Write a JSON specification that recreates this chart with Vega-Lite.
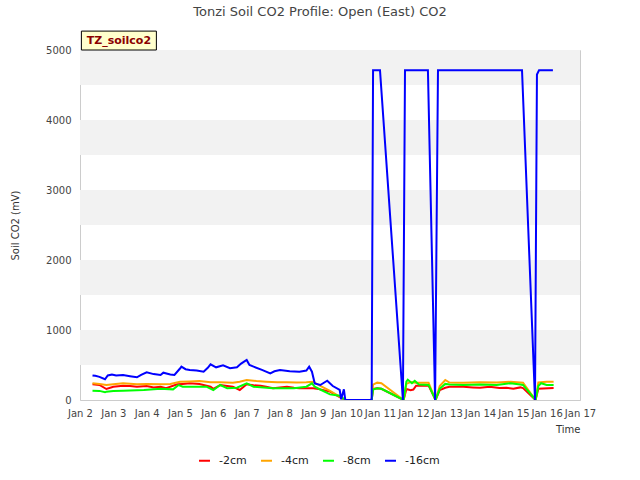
{
  "$schema": "https://vega.github.io/schema/vega-lite/v6.json",
  "width": 500,
  "height": 350,
  "autosize": "none",
  "padding": {"left": 80, "top": 50, "right": 60, "bottom": 80},
  "title": {"text": "Tonzi Soil CO2 Profile: Open (East) CO2", "fontSize": 13, "fontWeight": "normal", "color": "#444444", "font": "DejaVu Sans", "offset": 12, "dx": -10},
  "config": {
    "font": "DejaVu Sans",
    "view": {"stroke": "#cccccc"},
    "axis": {"labelFont": "DejaVu Sans", "titleFont": "DejaVu Sans", "labelFontSize": 10, "titleFontSize": 10, "titleFontWeight": "normal", "labelColor": "#444444", "titleColor": "#333333"}
  },
  "datasets": {
    "bands": [{"lo": 500, "hi": 1000}, {"lo": 1500, "hi": 2000}, {"lo": 2500, "hi": 3000}, {"lo": 3500, "hi": 4000}, {"lo": 4500, "hi": 5000}],
    "tag": [{"x1": "2020-01-02T01:00Z", "x2": "2020-01-04T07:00Z", "y1": 5000, "y2": 5270, "xm": "2020-01-03T04:00Z", "ym": 5135, "label": "TZ_soilco2"}],
    "series": [
      {"t":"2020-01-02T09:00Z","v":224,"s":"-2cm"},{"t":"2020-01-02T14:00Z","v":215,"s":"-2cm"},{"t":"2020-01-02T19:00Z","v":157,"s":"-2cm"},{"t":"2020-01-03T00:00Z","v":190,"s":"-2cm"},{"t":"2020-01-03T07:00Z","v":205,"s":"-2cm"},{"t":"2020-01-03T12:00Z","v":200,"s":"-2cm"},{"t":"2020-01-03T17:00Z","v":190,"s":"-2cm"},{"t":"2020-01-04T00:00Z","v":200,"s":"-2cm"},{"t":"2020-01-04T05:00Z","v":180,"s":"-2cm"},{"t":"2020-01-04T10:00Z","v":190,"s":"-2cm"},{"t":"2020-01-04T14:00Z","v":170,"s":"-2cm"},{"t":"2020-01-04T22:00Z","v":224,"s":"-2cm"},{"t":"2020-01-05T02:00Z","v":230,"s":"-2cm"},{"t":"2020-01-05T07:00Z","v":238,"s":"-2cm"},{"t":"2020-01-05T14:00Z","v":228,"s":"-2cm"},{"t":"2020-01-05T22:00Z","v":190,"s":"-2cm"},{"t":"2020-01-06T00:00Z","v":160,"s":"-2cm"},{"t":"2020-01-06T05:00Z","v":214,"s":"-2cm"},{"t":"2020-01-06T10:00Z","v":200,"s":"-2cm"},{"t":"2020-01-06T14:00Z","v":190,"s":"-2cm"},{"t":"2020-01-06T19:00Z","v":143,"s":"-2cm"},{"t":"2020-01-07T00:00Z","v":224,"s":"-2cm"},{"t":"2020-01-07T05:00Z","v":210,"s":"-2cm"},{"t":"2020-01-07T10:00Z","v":205,"s":"-2cm"},{"t":"2020-01-07T14:00Z","v":190,"s":"-2cm"},{"t":"2020-01-07T19:00Z","v":167,"s":"-2cm"},{"t":"2020-01-08T00:00Z","v":180,"s":"-2cm"},{"t":"2020-01-08T05:00Z","v":190,"s":"-2cm"},{"t":"2020-01-08T10:00Z","v":175,"s":"-2cm"},{"t":"2020-01-08T14:00Z","v":167,"s":"-2cm"},{"t":"2020-01-09T00:00Z","v":167,"s":"-2cm"},{"t":"2020-01-09T05:00Z","v":152,"s":"-2cm"},{"t":"2020-01-09T12:00Z","v":120,"s":"-2cm"},{"t":"2020-01-09T19:00Z","v":40,"s":"-2cm"},{"t":"2020-01-09T23:00Z","v":0,"s":"-2cm"},{"t":"2020-01-10T18:00Z","v":0,"s":"-2cm"},{"t":"2020-01-10T19:00Z","v":160,"s":"-2cm"},{"t":"2020-01-10T22:00Z","v":167,"s":"-2cm"},{"t":"2020-01-11T01:00Z","v":160,"s":"-2cm"},{"t":"2020-01-11T17:00Z","v":0,"s":"-2cm"},{"t":"2020-01-11T19:00Z","v":157,"s":"-2cm"},{"t":"2020-01-11T22:00Z","v":140,"s":"-2cm"},{"t":"2020-01-12T00:00Z","v":150,"s":"-2cm"},{"t":"2020-01-12T02:00Z","v":205,"s":"-2cm"},{"t":"2020-01-12T11:00Z","v":205,"s":"-2cm"},{"t":"2020-01-12T16:00Z","v":0,"s":"-2cm"},{"t":"2020-01-12T19:00Z","v":140,"s":"-2cm"},{"t":"2020-01-12T23:00Z","v":175,"s":"-2cm"},{"t":"2020-01-13T02:00Z","v":190,"s":"-2cm"},{"t":"2020-01-13T12:00Z","v":190,"s":"-2cm"},{"t":"2020-01-13T19:00Z","v":180,"s":"-2cm"},{"t":"2020-01-14T00:00Z","v":175,"s":"-2cm"},{"t":"2020-01-14T07:00Z","v":190,"s":"-2cm"},{"t":"2020-01-14T14:00Z","v":170,"s":"-2cm"},{"t":"2020-01-14T19:00Z","v":175,"s":"-2cm"},{"t":"2020-01-15T00:00Z","v":160,"s":"-2cm"},{"t":"2020-01-15T05:00Z","v":180,"s":"-2cm"},{"t":"2020-01-15T07:00Z","v":170,"s":"-2cm"},{"t":"2020-01-15T16:00Z","v":0,"s":"-2cm"},{"t":"2020-01-15T18:00Z","v":160,"s":"-2cm"},{"t":"2020-01-16T05:00Z","v":170,"s":"-2cm"},

      {"t":"2020-01-02T09:00Z","v":238,"s":"-4cm"},{"t":"2020-01-02T14:00Z","v":230,"s":"-4cm"},{"t":"2020-01-02T19:00Z","v":214,"s":"-4cm"},{"t":"2020-01-03T00:00Z","v":225,"s":"-4cm"},{"t":"2020-01-03T07:00Z","v":238,"s":"-4cm"},{"t":"2020-01-03T17:00Z","v":224,"s":"-4cm"},{"t":"2020-01-04T00:00Z","v":230,"s":"-4cm"},{"t":"2020-01-04T10:00Z","v":224,"s":"-4cm"},{"t":"2020-01-04T17:00Z","v":230,"s":"-4cm"},{"t":"2020-01-05T00:00Z","v":262,"s":"-4cm"},{"t":"2020-01-05T07:00Z","v":265,"s":"-4cm"},{"t":"2020-01-05T14:00Z","v":271,"s":"-4cm"},{"t":"2020-01-05T22:00Z","v":255,"s":"-4cm"},{"t":"2020-01-06T05:00Z","v":252,"s":"-4cm"},{"t":"2020-01-06T14:00Z","v":248,"s":"-4cm"},{"t":"2020-01-06T19:00Z","v":260,"s":"-4cm"},{"t":"2020-01-07T00:00Z","v":286,"s":"-4cm"},{"t":"2020-01-07T07:00Z","v":270,"s":"-4cm"},{"t":"2020-01-07T14:00Z","v":262,"s":"-4cm"},{"t":"2020-01-07T22:00Z","v":255,"s":"-4cm"},{"t":"2020-01-08T05:00Z","v":252,"s":"-4cm"},{"t":"2020-01-08T12:00Z","v":250,"s":"-4cm"},{"t":"2020-01-08T19:00Z","v":252,"s":"-4cm"},{"t":"2020-01-09T00:00Z","v":262,"s":"-4cm"},{"t":"2020-01-09T05:00Z","v":200,"s":"-4cm"},{"t":"2020-01-09T12:00Z","v":130,"s":"-4cm"},{"t":"2020-01-09T19:00Z","v":48,"s":"-4cm"},{"t":"2020-01-09T23:00Z","v":0,"s":"-4cm"},{"t":"2020-01-10T18:00Z","v":0,"s":"-4cm"},{"t":"2020-01-10T19:00Z","v":220,"s":"-4cm"},{"t":"2020-01-10T22:00Z","v":248,"s":"-4cm"},{"t":"2020-01-11T01:00Z","v":240,"s":"-4cm"},{"t":"2020-01-11T17:00Z","v":0,"s":"-4cm"},{"t":"2020-01-11T19:00Z","v":230,"s":"-4cm"},{"t":"2020-01-11T22:00Z","v":255,"s":"-4cm"},{"t":"2020-01-12T02:00Z","v":245,"s":"-4cm"},{"t":"2020-01-12T11:00Z","v":248,"s":"-4cm"},{"t":"2020-01-12T16:00Z","v":0,"s":"-4cm"},{"t":"2020-01-12T19:00Z","v":200,"s":"-4cm"},{"t":"2020-01-12T23:00Z","v":286,"s":"-4cm"},{"t":"2020-01-13T02:00Z","v":250,"s":"-4cm"},{"t":"2020-01-13T12:00Z","v":245,"s":"-4cm"},{"t":"2020-01-14T00:00Z","v":255,"s":"-4cm"},{"t":"2020-01-14T12:00Z","v":250,"s":"-4cm"},{"t":"2020-01-14T22:00Z","v":260,"s":"-4cm"},{"t":"2020-01-15T05:00Z","v":250,"s":"-4cm"},{"t":"2020-01-15T07:00Z","v":248,"s":"-4cm"},{"t":"2020-01-15T16:00Z","v":0,"s":"-4cm"},{"t":"2020-01-15T18:00Z","v":250,"s":"-4cm"},{"t":"2020-01-16T00:00Z","v":260,"s":"-4cm"},{"t":"2020-01-16T05:00Z","v":262,"s":"-4cm"},

      {"t":"2020-01-02T09:00Z","v":133,"s":"-8cm"},{"t":"2020-01-02T14:00Z","v":130,"s":"-8cm"},{"t":"2020-01-02T18:00Z","v":110,"s":"-8cm"},{"t":"2020-01-02T19:00Z","v":119,"s":"-8cm"},{"t":"2020-01-03T00:00Z","v":130,"s":"-8cm"},{"t":"2020-01-03T07:00Z","v":133,"s":"-8cm"},{"t":"2020-01-03T22:00Z","v":143,"s":"-8cm"},{"t":"2020-01-04T10:00Z","v":162,"s":"-8cm"},{"t":"2020-01-04T19:00Z","v":152,"s":"-8cm"},{"t":"2020-01-04T23:00Z","v":214,"s":"-8cm"},{"t":"2020-01-05T02:00Z","v":190,"s":"-8cm"},{"t":"2020-01-05T10:00Z","v":190,"s":"-8cm"},{"t":"2020-01-05T19:00Z","v":190,"s":"-8cm"},{"t":"2020-01-06T00:00Z","v":143,"s":"-8cm"},{"t":"2020-01-06T05:00Z","v":214,"s":"-8cm"},{"t":"2020-01-06T10:00Z","v":167,"s":"-8cm"},{"t":"2020-01-06T17:00Z","v":176,"s":"-8cm"},{"t":"2020-01-07T00:00Z","v":238,"s":"-8cm"},{"t":"2020-01-07T05:00Z","v":190,"s":"-8cm"},{"t":"2020-01-07T19:00Z","v":167,"s":"-8cm"},{"t":"2020-01-08T10:00Z","v":167,"s":"-8cm"},{"t":"2020-01-08T19:00Z","v":190,"s":"-8cm"},{"t":"2020-01-08T23:00Z","v":238,"s":"-8cm"},{"t":"2020-01-09T01:00Z","v":190,"s":"-8cm"},{"t":"2020-01-09T05:00Z","v":150,"s":"-8cm"},{"t":"2020-01-09T12:00Z","v":80,"s":"-8cm"},{"t":"2020-01-09T19:00Z","v":60,"s":"-8cm"},{"t":"2020-01-09T23:00Z","v":0,"s":"-8cm"},{"t":"2020-01-10T18:00Z","v":0,"s":"-8cm"},{"t":"2020-01-10T19:00Z","v":150,"s":"-8cm"},{"t":"2020-01-10T22:00Z","v":167,"s":"-8cm"},{"t":"2020-01-11T01:00Z","v":160,"s":"-8cm"},{"t":"2020-01-11T17:00Z","v":0,"s":"-8cm"},{"t":"2020-01-11T19:00Z","v":262,"s":"-8cm"},{"t":"2020-01-11T20:00Z","v":290,"s":"-8cm"},{"t":"2020-01-11T23:00Z","v":240,"s":"-8cm"},{"t":"2020-01-12T01:00Z","v":275,"s":"-8cm"},{"t":"2020-01-12T04:00Z","v":220,"s":"-8cm"},{"t":"2020-01-12T11:00Z","v":215,"s":"-8cm"},{"t":"2020-01-12T16:00Z","v":0,"s":"-8cm"},{"t":"2020-01-12T19:00Z","v":160,"s":"-8cm"},{"t":"2020-01-12T23:00Z","v":230,"s":"-8cm"},{"t":"2020-01-13T02:00Z","v":220,"s":"-8cm"},{"t":"2020-01-13T12:00Z","v":215,"s":"-8cm"},{"t":"2020-01-14T00:00Z","v":220,"s":"-8cm"},{"t":"2020-01-14T12:00Z","v":215,"s":"-8cm"},{"t":"2020-01-14T22:00Z","v":240,"s":"-8cm"},{"t":"2020-01-15T05:00Z","v":220,"s":"-8cm"},{"t":"2020-01-15T07:00Z","v":215,"s":"-8cm"},{"t":"2020-01-15T16:00Z","v":0,"s":"-8cm"},{"t":"2020-01-15T18:00Z","v":200,"s":"-8cm"},{"t":"2020-01-15T20:00Z","v":240,"s":"-8cm"},{"t":"2020-01-16T00:00Z","v":215,"s":"-8cm"},{"t":"2020-01-16T05:00Z","v":215,"s":"-8cm"},

      {"t":"2020-01-02T09:00Z","v":350,"s":"-16cm"},{"t":"2020-01-02T11:00Z","v":345,"s":"-16cm"},{"t":"2020-01-02T14:00Z","v":330,"s":"-16cm"},{"t":"2020-01-02T18:00Z","v":296,"s":"-16cm"},{"t":"2020-01-02T20:00Z","v":350,"s":"-16cm"},{"t":"2020-01-02T23:00Z","v":365,"s":"-16cm"},{"t":"2020-01-03T02:00Z","v":350,"s":"-16cm"},{"t":"2020-01-03T07:00Z","v":357,"s":"-16cm"},{"t":"2020-01-03T12:00Z","v":340,"s":"-16cm"},{"t":"2020-01-03T17:00Z","v":324,"s":"-16cm"},{"t":"2020-01-03T20:00Z","v":360,"s":"-16cm"},{"t":"2020-01-04T00:00Z","v":396,"s":"-16cm"},{"t":"2020-01-04T05:00Z","v":370,"s":"-16cm"},{"t":"2020-01-04T10:00Z","v":357,"s":"-16cm"},{"t":"2020-01-04T12:00Z","v":390,"s":"-16cm"},{"t":"2020-01-04T17:00Z","v":365,"s":"-16cm"},{"t":"2020-01-04T20:00Z","v":357,"s":"-16cm"},{"t":"2020-01-05T00:00Z","v":450,"s":"-16cm"},{"t":"2020-01-05T01:00Z","v":476,"s":"-16cm"},{"t":"2020-01-05T04:00Z","v":440,"s":"-16cm"},{"t":"2020-01-05T07:00Z","v":429,"s":"-16cm"},{"t":"2020-01-05T12:00Z","v":420,"s":"-16cm"},{"t":"2020-01-05T17:00Z","v":405,"s":"-16cm"},{"t":"2020-01-05T20:00Z","v":460,"s":"-16cm"},{"t":"2020-01-05T22:00Z","v":510,"s":"-16cm"},{"t":"2020-01-06T02:00Z","v":467,"s":"-16cm"},{"t":"2020-01-06T07:00Z","v":496,"s":"-16cm"},{"t":"2020-01-06T12:00Z","v":455,"s":"-16cm"},{"t":"2020-01-06T17:00Z","v":467,"s":"-16cm"},{"t":"2020-01-06T20:00Z","v":520,"s":"-16cm"},{"t":"2020-01-07T00:00Z","v":571,"s":"-16cm"},{"t":"2020-01-07T02:00Z","v":500,"s":"-16cm"},{"t":"2020-01-07T05:00Z","v":476,"s":"-16cm"},{"t":"2020-01-07T11:00Z","v":430,"s":"-16cm"},{"t":"2020-01-07T17:00Z","v":381,"s":"-16cm"},{"t":"2020-01-07T20:00Z","v":410,"s":"-16cm"},{"t":"2020-01-08T00:00Z","v":429,"s":"-16cm"},{"t":"2020-01-08T07:00Z","v":410,"s":"-16cm"},{"t":"2020-01-08T14:00Z","v":405,"s":"-16cm"},{"t":"2020-01-08T19:00Z","v":420,"s":"-16cm"},{"t":"2020-01-08T21:00Z","v":476,"s":"-16cm"},{"t":"2020-01-08T23:00Z","v":405,"s":"-16cm"},{"t":"2020-01-09T01:00Z","v":238,"s":"-16cm"},{"t":"2020-01-09T05:00Z","v":214,"s":"-16cm"},{"t":"2020-01-09T10:00Z","v":276,"s":"-16cm"},{"t":"2020-01-09T14:00Z","v":200,"s":"-16cm"},{"t":"2020-01-09T19:00Z","v":143,"s":"-16cm"},{"t":"2020-01-09T20:00Z","v":10,"s":"-16cm"},{"t":"2020-01-09T22:00Z","v":153,"s":"-16cm"},{"t":"2020-01-09T23:00Z","v":0,"s":"-16cm"},{"t":"2020-01-10T18:00Z","v":0,"s":"-16cm"},{"t":"2020-01-10T19:00Z","v":4710,"s":"-16cm"},{"t":"2020-01-11T00:00Z","v":4710,"s":"-16cm"},{"t":"2020-01-11T16:30Z","v":0,"s":"-16cm"},{"t":"2020-01-11T18:00Z","v":4710,"s":"-16cm"},{"t":"2020-01-12T10:30Z","v":4710,"s":"-16cm"},{"t":"2020-01-12T15:40Z","v":0,"s":"-16cm"},{"t":"2020-01-12T17:45Z","v":4710,"s":"-16cm"},{"t":"2020-01-15T06:15Z","v":4710,"s":"-16cm"},{"t":"2020-01-15T15:36Z","v":0,"s":"-16cm"},{"t":"2020-01-15T17:00Z","v":4650,"s":"-16cm"},{"t":"2020-01-15T18:30Z","v":4710,"s":"-16cm"},{"t":"2020-01-16T04:30Z","v":4710,"s":"-16cm"}
    ]
  },
  "layer": [
    {
      "data": {"name": "bands"},
      "mark": {"type": "rect", "color": "#f2f2f2"},
      "encoding": {
        "y": {"field": "lo", "type": "quantitative", "scale": {"domain": [0, 5000], "nice": false}},
        "y2": {"field": "hi"}
      }
    },
    {
      "data": {"name": "series"},
      "mark": {"type": "line", "strokeWidth": 2, "clip": true},
      "encoding": {
        "x": {"field": "t", "type": "temporal", "title": "Time",
              "scale": {"type": "utc", "domain": ["2020-01-02T00:00:00Z", "2020-01-17T00:00:00Z"]},
              "axis": {"format": "%b %-d", "tickCount": {"interval": "day", "step": 1}, "grid": false, "ticks": false, "labelPadding": 8, "labelFlush": false, "labelOverlap": false, "titleAnchor": "end", "titleAlign": "right", "domainColor": "#cccccc", "titlePadding": 6}},
        "y": {"field": "v", "type": "quantitative", "title": "Soil CO2 (mV)",
              "scale": {"domain": [0, 5000], "nice": false},
              "axis": {"values": [0,500,1000,1500,2000,2500,3000,3500,4000,4500,5000], "format": "d", "gridColor": "#dddddd", "domain": false, "ticks": false, "labelPadding": 9, "titlePadding": 25}},
        "color": {"field": "s", "type": "nominal",
                  "scale": {"domain": ["-2cm", "-4cm", "-8cm", "-16cm"], "range": ["#ff0000", "#ffa500", "#00ff00", "#0000ff"]},
                  "legend": {"title": null, "orient": "none", "legendX": 118, "legendY": 404, "direction": "horizontal", "columns": 4, "gridAlign": "all", "symbolType": "stroke", "symbolStrokeWidth": 2, "symbolSize": 120, "labelFontSize": 11, "labelOffset": 8, "labelColor": "#222222", "columnPadding": 3}},
        "order": {"field": "t", "type": "temporal"}
      }
    },
    {
      "data": {"name": "tag"},
      "mark": {"type": "rect", "fill": "#ffffcc", "stroke": "#000000", "strokeWidth": 1, "clip": false},
      "encoding": {
        "x": {"field": "x1", "type": "temporal"},
        "x2": {"field": "x2"},
        "y": {"field": "y1", "type": "quantitative"},
        "y2": {"field": "y2"}
      }
    },
    {
      "data": {"name": "tag"},
      "mark": {"type": "text", "color": "#8b0000", "fontWeight": "bold", "fontSize": 11, "font": "DejaVu Sans", "clip": false},
      "encoding": {
        "x": {"field": "xm", "type": "temporal"},
        "y": {"field": "ym", "type": "quantitative"},
        "text": {"field": "label"}
      }
    }
  ]
}
